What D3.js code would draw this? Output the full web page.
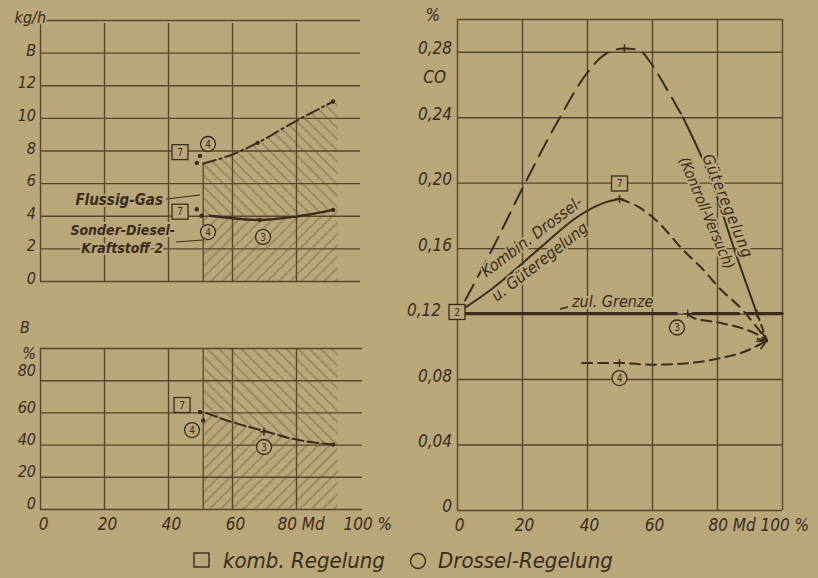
<!DOCTYPE html>
<html><head><meta charset="utf-8">
<script src="https://cdn.jsdelivr.net/npm/d3@7"></script>
<style>
html,body{margin:0;padding:0;background:#b9a679;}
svg{display:block;}
text{font-family:"DejaVu Sans Condensed","Liberation Sans Narrow","DejaVu Sans",sans-serif;font-stretch:condensed;font-style:italic;fill:#3a2d1b;}
.lbl{paint-order:stroke;stroke:#b9a679;stroke-width:4px;stroke-linejoin:round;}
.mk text{font-style:normal;font-size:10px;}
</style></head><body>
<svg id="c" width="818" height="578"></svg>
<script>
// ---------- data ----------
const xTicks = [0, 20, 40, 60, 80, 100];
const xTickLabels = ["0", "20", "40", "60", "80 Md", "100 %"];
const fuelTicks = [0, 2, 4, 6, 8, 10, 12, 14, 16];
const fuelTickLabels = ["0", "2", "4", "6", "8", "10", "12", "B", "kg/h"];
const bTicks = [0, 20, 40, 60, 80, 100];
const bTickLabels = ["0", "20", "40", "60", "80", "%"];
const coTicks = [0, 0.04, 0.08, 0.12, 0.16, 0.20, 0.24, 0.28, 0.30];
const coTickLabels = ["0", "0,04", "0,08", "0,12", "0,16", "0,20", "0,24", "0,28", "%"];

// Kraftstoffverbrauch B (kg/h)
const fluessigGas = [[51, 7.2], [60, 7.75], [68, 8.47], [79, 9.7], [91.6, 11.0]];
const fluessigGasHatchTop = [[51, 7.2], [60, 7.75], [68, 8.47], [79, 9.7], [91.6, 11.0], [93, 10.9]];
const dieselKraftstoff = [[53.1, 4.0], [60, 3.85], [68.75, 3.74], [80, 3.95], [91.6, 4.36]];
const dieselHatchTop = [[51, 4.05], [53.1, 4.0], [60, 3.85], [68.75, 3.74], [80, 3.95], [91.6, 4.36], [93, 4.4]];
const fuelDots = [[49, 7.24], [50, 7.67], [68, 8.47], [91.6, 11.0], [49, 4.4], [50.5, 4.0], [68.75, 3.74], [91.6, 4.36]];
const fuelKomb = [{x: 43.75, y: 7.9, n: "7"}, {x: 43.75, y: 4.25, n: "7"}];
const fuelDrossel = [{x: 52.5, y: 8.4, n: "4"}, {x: 52.5, y: 3.0, n: "4"}, {x: 69.7, y: 2.7, n: "3"}];

// B (%)
const bPercent = [[52, 59.6], [60, 54], [70, 48.5], [78, 44], [91.6, 40]];
const bHatchMid = [[51, 60], [52, 59.6], [60, 54], [70, 48.5], [78, 44], [91.6, 40], [93, 39.6]];
const bHatchRange = [51, 93];
const bDots = [[50, 60.2], [51, 55], [91.6, 40]];
const bCross = [[70, 48]];
const bKomb = [{x: 44.4, y: 64.6, n: "7"}];
const bDrossel = [{x: 47.5, y: 49, n: "4"}, {x: 70, y: 38.5, n: "3"}];

// CO (%)
const coKontrollDash = [[2.5, 0.128], [11, 0.16], [20, 0.196], [31.7, 0.24], [40, 0.267], [46, 0.279], [51.5, 0.282], [56, 0.281], [60, 0.272], [64.6, 0.257], [69.5, 0.24]];
const coKontrollSolid = [[69.5, 0.24], [78.5, 0.20], [85.2, 0.16], [92.3, 0.12]];
const coKontrollTail = [[92.3, 0.12], [95.4, 0.1035]];
const coKombSolid = [[2, 0.123], [10, 0.134], [25.5, 0.16], [37, 0.179], [45, 0.1875], [50, 0.19]];
const coKombDash = [[50, 0.19], [56, 0.185], [61.5, 0.1766], [69.5, 0.159], [75.7, 0.147], [81, 0.135], [87, 0.124], [95.4, 0.1035]];
const coDrossel3 = [[70.8, 0.12], [72.6, 0.1175], [81.8, 0.114], [93, 0.1066], [95.4, 0.1035]];
const coDrossel4 = [[38.5, 0.0898], [50, 0.0898], [60, 0.0888], [70, 0.0895], [81, 0.0928], [88, 0.0964], [95.4, 0.1035]];
const zulGrenze = [[0, 0.12], [67.5, 0.12]];
const zulGrenzeRest = [[72.5, 0.12], [100, 0.12]];
const coKomb = [{x: 0, y: 0.121, n: "2"}, {x: 50, y: 0.1995, n: "7"}];
const coDrossel = [{x: 67.7, y: 0.1115, n: "3"}, {x: 50, y: 0.0806, n: "4"}];
const coCross = [[50, 0.19], [50, 0.0898], [71, 0.12], [92.3, 0.12], [51.5, 0.282]];

// ---------- drawing ----------
const ink = "#3a2d1b", gridC = "#55462d", bg = "#b9a679";
const svg = d3.select("#c");
const defs = svg.append("defs");
function hatch(id, angle) {
  const p = defs.append("pattern").attr("id", id).attr("patternUnits", "userSpaceOnUse")
    .attr("width", 8).attr("height", 8).attr("patternTransform", `rotate(${angle})`);
  p.append("line").attr("x1", 4).attr("y1", 0).attr("x2", 4).attr("y2", 8)
    .attr("stroke", ink).attr("stroke-width", 1).attr("stroke-opacity", 0.45);
}
hatch("hb", -45); hatch("hf", 45);
defs.append("marker").attr("id", "arr").attr("viewBox", "0 0 10 10").attr("refX", 9).attr("refY", 5)
  .attr("markerWidth", 11).attr("markerHeight", 11).attr("markerUnits", "userSpaceOnUse").attr("orient", "auto")
  .append("path").attr("d", "M0,1 L9,5 L0,9").attr("fill", "none").attr("stroke", ink).attr("stroke-width", 1.6);

const xL = d3.scaleLinear().domain([0, 100]).range([40, 360]);
const yT = d3.scaleLinear().domain([0, 16]).range([281, 20]);
const yB = d3.scaleLinear().domain([0, 100]).range([509, 348]);
const xR = d3.scaleLinear().domain([0, 100]).range([457, 782]);
const yR = d3.scaleLinear().domain([0, 0.30]).range([510, 19]);

function styleGrid(g) {
  g.select(".domain").remove();
  g.selectAll(".tick line").attr("stroke", gridC).attr("stroke-width", 1.4);
}
function lineOf(xs, ys, curve) {
  return d3.line().x(d => xs(d[0])).y(d => ys(d[1])).curve(curve || d3.curveMonotoneX);
}
function path(g, data, xs, ys, opts) {
  return g.append("path").datum(data).attr("d", lineOf(xs, ys, opts.curve))
    .attr("fill", "none").attr("stroke", ink).attr("stroke-width", opts.w || 2)
    .attr("stroke-dasharray", opts.dash || null).attr("stroke-linecap", "round");
}
function boxes(g, arr, xs, ys) {
  const m = g.append("g").attr("class", "mk").selectAll("g").data(arr).join("g")
    .attr("transform", d => `translate(${xs(d.x)},${ys(d.y)})`);
  m.append("rect").attr("x", -8).attr("y", -7.5).attr("width", 16).attr("height", 15)
    .attr("fill", bg).attr("stroke", ink).attr("stroke-width", 1.3);
  m.append("text").attr("text-anchor", "middle").attr("dy", "0.36em").text(d => d.n);
}
function circles(g, arr, xs, ys) {
  const m = g.append("g").attr("class", "mk").selectAll("g").data(arr).join("g")
    .attr("transform", d => `translate(${xs(d.x)},${ys(d.y)})`);
  m.append("circle").attr("r", 7.5).attr("fill", bg).attr("stroke", ink).attr("stroke-width", 1.3);
  m.append("text").attr("text-anchor", "middle").attr("dy", "0.36em").text(d => d.n);
}
function dots(g, arr, xs, ys) {
  g.append("g").selectAll("circle").data(arr).join("circle")
    .attr("cx", d => xs(d[0])).attr("cy", d => ys(d[1])).attr("r", 2.2).attr("fill", ink);
}
function crosses(g, arr, xs, ys) {
  g.append("g").selectAll("path").data(arr).join("path")
    .attr("d", d => `M${xs(d[0]) - 4},${ys(d[1])}H${xs(d[0]) + 4}M${xs(d[0])},${ys(d[1]) - 4}V${ys(d[1]) + 4}`)
    .attr("stroke", ink).attr("stroke-width", 1.4);
}

// ===== Top-left panel: B kg/h =====
const gT = svg.append("g");
gT.append("path").datum(fluessigGasHatchTop.concat(dieselHatchTop.slice().reverse()))
  .attr("d", lineOf(xL, yT, d3.curveLinear)).attr("fill", "url(#hb)");
gT.append("path").datum(dieselHatchTop.concat([[dieselHatchTop[dieselHatchTop.length - 1][0], 0], [dieselHatchTop[0][0], 0]]))
  .attr("d", lineOf(xL, yT, d3.curveLinear)).attr("fill", "url(#hf)");
gT.append("line").attr("x1", xL(fluessigGasHatchTop[0][0])).attr("x2", xL(fluessigGasHatchTop[0][0]))
  .attr("y1", yT(fluessigGasHatchTop[0][1])).attr("y2", yT(0)).attr("stroke", gridC).attr("stroke-width", 1.3);
gT.append("g").attr("transform", `translate(0,${yT(0)})`)
  .call(d3.axisBottom(xL).tickValues(xTicks.slice(0, 5)).tickSize(-(yT(0) - yT(16)) + 3).tickFormat(""))
  .call(styleGrid);
const aT = gT.append("g").attr("transform", `translate(${xL(0)},0)`)
  .call(d3.axisLeft(yT).tickValues(fuelTicks).tickSize(-(xL(100) - xL(0))).tickPadding(4)
    .tickFormat((d, i) => fuelTickLabels[i]))
  .call(styleGrid);
aT.selectAll(".tick text").attr("class", "lbl").attr("font-size", 16).attr("y", -3)
  .attr("dx", (d, i) => fuelTickLabels[i] === "kg/h" ? 10 : 0).attr("dy", "0.35em");

dots(gT, fuelDots, xL, yT);
path(gT, fluessigGas, xL, yT, {w: 2, dash: "13,4,2,4"});
path(gT, dieselKraftstoff, xL, yT, {w: 2.4});
boxes(gT, fuelKomb, xL, yT);
circles(gT, fuelDrossel, xL, yT);
gT.append("text").attr("class", "lbl").attr("x", 163).attr("y", 205).attr("text-anchor", "end")
  .attr("font-size", 15).attr("font-weight", "bold").text("Flussig-Gas");
gT.append("line").attr("x1", 166).attr("y1", 199).attr("x2", 200).attr("y2", 195).attr("stroke", ink).attr("stroke-width", 1.2);
gT.append("text").attr("class", "lbl").attr("x", 175).attr("y", 235).attr("text-anchor", "end")
  .attr("font-size", 14).attr("font-weight", "bold").text("Sonder-Diesel-");
gT.append("text").attr("class", "lbl").attr("x", 163).attr("y", 253).attr("text-anchor", "end")
  .attr("font-size", 14).attr("font-weight", "bold").text("Kraftstoff 2");
gT.append("line").attr("x1", 176).attr("y1", 242).attr("x2", 203).attr("y2", 240).attr("stroke", ink).attr("stroke-width", 1.2);

// ===== Bottom-left panel: B % =====
const gB = svg.append("g");
gB.append("path").datum(bHatchMid.concat([[bHatchRange[1], 100], [bHatchRange[0], 100]]))
  .attr("d", lineOf(xL, yB, d3.curveLinear)).attr("fill", "url(#hb)");
gB.append("path").datum(bHatchMid.concat([[bHatchRange[1], 0], [bHatchRange[0], 0]]))
  .attr("d", lineOf(xL, yB, d3.curveLinear)).attr("fill", "url(#hf)");
gB.append("line").attr("x1", xL(bHatchRange[0])).attr("x2", xL(bHatchRange[0]))
  .attr("y1", yB(100)).attr("y2", yB(0)).attr("stroke", gridC).attr("stroke-width", 1.3);
gB.append("g").attr("transform", `translate(0,${yB(0)})`)
  .call(d3.axisBottom(xL).tickValues(xTicks.slice(0, 5)).tickSize(-(yB(0) - yB(100))).tickFormat(""))
  .call(styleGrid);
const aB = gB.append("g").attr("transform", `translate(${xL(0)},0)`)
  .call(d3.axisLeft(yB).tickValues(bTicks).tickSize(-(xL(100) - xL(0)) - 2).tickPadding(4)
    .tickFormat((d, i) => bTickLabels[i]))
  .call(styleGrid);
aB.selectAll(".tick text").attr("class", "lbl").attr("font-size", 16)
  .attr("y", (d, i) => bTickLabels[i] === "%" ? 5 : (d === 80 ? -10 : -6)).attr("dy", "0.35em");
gB.append("text").attr("x", 25).attr("y", 333).attr("text-anchor", "middle").attr("font-size", 16).text("B");
const axL = gB.append("g").attr("transform", `translate(0,${yB(0)})`)
  .call(d3.axisBottom(xL).tickValues(xTicks).tickSize(0).tickPadding(9).tickFormat((d, i) => xTickLabels[i]));
axL.select(".domain").remove();
axL.selectAll(".tick text").attr("font-size", 17)
  .attr("text-anchor", (d, i) => i >= 4 ? "start" : "middle")
  .attr("dx", (d, i) => i === 4 ? -19 : (i === 5 ? -17 : 3));

path(gB, bPercent, xL, yB, {w: 2, dash: "11,4"});
dots(gB, bDots, xL, yB);
crosses(gB, bCross, xL, yB);
boxes(gB, bKomb, xL, yB);
circles(gB, bDrossel, xL, yB);

// ===== Right panel: CO % =====
const gR = svg.append("g");
gR.append("g").attr("transform", `translate(0,${yR(0)})`)
  .call(d3.axisBottom(xR).tickValues(xTicks).tickSize(-(yR(0) - yR(0.30))).tickFormat(""))
  .call(styleGrid);
const aR = gR.append("g").attr("transform", `translate(${xR(0)},0)`)
  .call(d3.axisLeft(yR).tickValues(coTicks).tickSize(-(xR(100) - xR(0))).tickPadding(5)
    .tickFormat((d, i) => coTickLabels[i]))
  .call(styleGrid);
aR.selectAll(".tick text").attr("class", "lbl").attr("font-size", 17).attr("y", -4).attr("dy", "0.35em")
  .attr("dx", (d, i) => coTickLabels[i] === "%" ? -12 : (coTickLabels[i] === "0,12" ? -11 : 0));
gR.append("text").attr("x", 446).attr("y", 83).attr("text-anchor", "end").attr("font-size", 17).text("CO");
const axR = gR.append("g").attr("transform", `translate(0,${yR(0)})`)
  .call(d3.axisBottom(xR).tickValues(xTicks).tickSize(0).tickPadding(9).tickFormat((d, i) => xTickLabels[i]));
axR.select(".domain").remove();
axR.selectAll(".tick text").attr("font-size", 17)
  .attr("text-anchor", (d, i) => i >= 4 ? "start" : "middle")
  .attr("dx", (d, i) => i === 4 ? -9 : (i === 5 ? -22 : 2));

path(gR, zulGrenze, xR, yR, {w: 3.4, curve: d3.curveLinear});
path(gR, zulGrenzeRest, xR, yR, {w: 3.4, curve: d3.curveLinear, dash: "46,8"});
path(gR, coKontrollDash, xR, yR, {w: 2, dash: "18,9"});
path(gR, coKontrollSolid, xR, yR, {w: 2});
path(gR, coKontrollTail, xR, yR, {w: 2, dash: "7,5", curve: d3.curveLinear});
path(gR, coKombSolid, xR, yR, {w: 2});
path(gR, coKombDash, xR, yR, {w: 2, dash: "10,7"});
path(gR, coDrossel3, xR, yR, {w: 2, dash: "10,6"}).attr("marker-end", "url(#arr)");
path(gR, coDrossel4, xR, yR, {w: 2, dash: "10,6"}).attr("marker-end", "url(#arr)");
crosses(gR, coCross, xR, yR);
boxes(gR, coKomb, xR, yR);
circles(gR, coDrossel, xR, yR);

gR.append("text").attr("class", "lbl").attr("transform", "translate(535,241) rotate(-37)")
  .attr("text-anchor", "middle").attr("font-size", 16).text("Kombin. Drossel-");
gR.append("text").attr("class", "lbl").attr("transform", "translate(543,266) rotate(-38)")
  .attr("text-anchor", "middle").attr("font-size", 16).text("u. Güteregelung");
gR.append("text").attr("class", "lbl").attr("transform", "translate(728,206) rotate(68)")
  .attr("text-anchor", "middle").attr("dy", "0.35em").attr("font-size", 16).attr("letter-spacing", 1).text("Güteregelung");
gR.append("text").attr("class", "lbl").attr("transform", "translate(707,213) rotate(67)")
  .attr("text-anchor", "middle").attr("dy", "0.35em").attr("font-size", 15).text("(Kontroll-Versuch)");
gR.append("text").attr("class", "lbl").attr("x", 572).attr("y", 307).attr("font-size", 16).text("zul. Grenze");
gR.append("line").attr("x1", 560).attr("y1", 309).attr("x2", 568).attr("y2", 307).attr("stroke", ink).attr("stroke-width", 1.8);

// ===== Legend =====
const gL = svg.append("g");
gL.append("rect").attr("x", 194).attr("y", 553).attr("width", 15).attr("height", 14)
  .attr("fill", "none").attr("stroke", ink).attr("stroke-width", 1.4);
gL.append("text").attr("x", 223).attr("y", 568).attr("font-size", 22).text("komb. Regelung");
gL.append("circle").attr("cx", 418).attr("cy", 561).attr("r", 7.5)
  .attr("fill", "none").attr("stroke", ink).attr("stroke-width", 1.4);
gL.append("text").attr("x", 438).attr("y", 568).attr("font-size", 22).text("Drossel-Regelung");
</script>
</body></html>
